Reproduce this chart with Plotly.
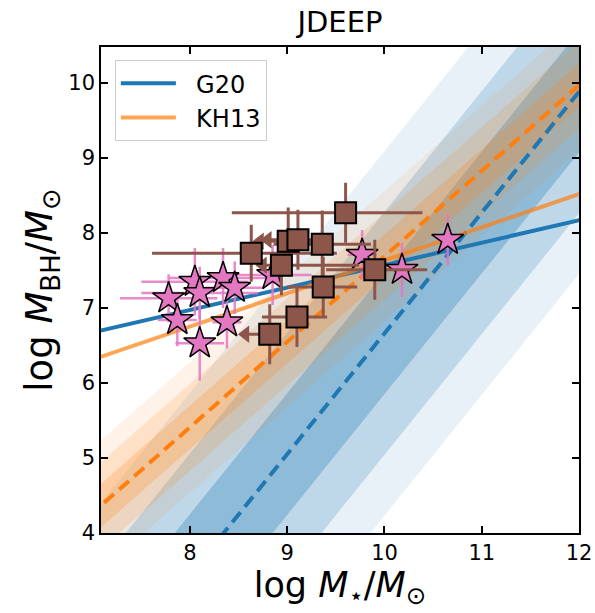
import numpy as np
import plotly.graph_objects as go

# ---------------- data ----------------
# G20 relation (dashed) and fitted line (solid)
g20_pivot, g20_norm, g20_slope, g20_sigma = 10.477, 7.43, 1.61, 0.81
g20_fit_norm, g20_fit_slope = 6.70, 0.299      # at x = 7.085
kh13_pivot, kh13_norm, kh13_slope, kh13_sigma = 11.0, 8.83, 1.14, 0.29
kh13_fit_norm, kh13_fit_slope = 6.35, 0.441    # at x = 7.085

star_x = [7.78, 7.87, 8.05, 8.10, 8.10, 8.34, 8.46, 8.38, 8.85, 9.77, 10.18, 10.65]
star_y = [7.13, 6.84, 7.35, 7.20, 6.53, 7.40, 7.27, 6.81, 7.44, 7.71, 7.51, 7.91]
star_xerr = [0.50, 0.20, 0.55, 0.60, 0.25, 0.55, 0.30, 0.15, 0.40, 0.15, 0.20, 0.10]
star_yerr = [0.32, 0.35, 0.45, 0.35, 0.50, 0.40, 0.35, 0.35, 0.40, 0.33, 0.36, 0.34]

sq_x = [9.60, 8.63, 9.01, 9.11, 9.36, 8.94, 9.37, 9.10, 8.82, 9.90]
sq_y = [8.27, 7.73, 7.89, 7.91, 7.85, 7.57, 7.28, 6.88, 6.65, 7.51]
sq_xerr_lo = [1.17, 1.02, 0.29, 0.31, 0.50, 0.19, 0.37, 0.36, 0.25, 0.50]
sq_xerr_hi = [0.79, 0.88, 0.30, 0.30, 0.50, 0.80, 0.35, 0.31, 0.10, 0.54]
sq_yerr = [0.40, 0.38, 0.45, 0.40, 0.45, 0.40, 0.40, 0.40, 0.40, 0.40]
sq_uplim = [0, 0, 1, 1, 0, 1, 0, 0, 1, 0]

xr = [7.085, 12.0]
yr = [4.0, 10.48]

C0 = (31, 119, 180)
C1 = (255, 127, 14)
PINK = "#e377c2"
BROWN = "#8c564b"

fig = go.Figure()

xs = np.array([6.5, 12.5])

def band(pivot, norm, slope, off, rgb, alpha):
    yc = norm + slope * (xs - pivot)
    px = list(xs) + list(xs[::-1])
    py = list(yc + off) + list((yc - off)[::-1])
    fig.add_trace(go.Scatter(x=px, y=py, mode="lines", line=dict(width=0),
                             fill="toself",
                             fillcolor=f"rgba({rgb[0]},{rgb[1]},{rgb[2]},{alpha})",
                             hoverinfo="skip", showlegend=False))

for k, a in [(3, 0.1), (2, 0.2), (1, 0.3)]:
    band(g20_pivot, g20_norm, g20_slope, k * g20_sigma, C0, a)
for k, a in [(3, 0.09), (2, 0.15), (1, 0.22)]:
    band(kh13_pivot, kh13_norm, kh13_slope, k * kh13_sigma, C1, a)

# dashed relations
fig.add_trace(go.Scatter(x=xs, y=g20_norm + g20_slope * (xs - g20_pivot), mode="lines",
                         line=dict(color="rgb(31,119,180)", width=4, dash="13px,7px"),
                         showlegend=False, hoverinfo="skip"))
fig.add_trace(go.Scatter(x=xs, y=kh13_norm + kh13_slope * (xs - kh13_pivot), mode="lines",
                         line=dict(color="rgb(255,127,14)", width=4, dash="13px,7px"),
                         showlegend=False, hoverinfo="skip"))
# solid fits
fig.add_trace(go.Scatter(x=xs, y=g20_fit_norm + g20_fit_slope * (xs - 7.085), mode="lines",
                         line=dict(color="rgb(31,119,180)", width=4),
                         name="&nbsp;&nbsp;G20", hoverinfo="skip"))
fig.add_trace(go.Scatter(x=xs, y=kh13_fit_norm + kh13_fit_slope * (xs - 7.085), mode="lines",
                         line=dict(color="rgba(255,127,14,0.7)", width=4),
                         name="&nbsp;&nbsp;KH13", hoverinfo="skip"))

# stars
fig.add_trace(go.Scatter(
    x=star_x, y=star_y, mode="markers",
    error_x=dict(type="data", array=star_xerr, color="rgba(227,119,194,0.85)", thickness=2.5, width=0),
    error_y=dict(type="data", array=star_yerr, color="rgba(227,119,194,0.85)", thickness=2.5, width=0),
    marker=dict(symbol="star", size=24, color=PINK, line=dict(color="black", width=1.5)),
    showlegend=False, hoverinfo="skip"))

# squares
fig.add_trace(go.Scatter(
    x=sq_x, y=sq_y, mode="markers",
    error_x=dict(type="data", symmetric=False, array=sq_xerr_hi, arrayminus=sq_xerr_lo,
                 color=BROWN, thickness=3, width=0),
    error_y=dict(type="data", array=sq_yerr, color=BROWN, thickness=3, width=0),
    marker=dict(symbol="square", size=0.1, color=BROWN),
    showlegend=False, hoverinfo="skip"))
ux = [x - lo for x, lo, u in zip(sq_x, sq_xerr_lo, sq_uplim) if u]
uy = [y for y, u in zip(sq_y, sq_uplim) if u]
fig.add_trace(go.Scatter(x=ux, y=uy, mode="markers",
                         marker=dict(symbol="triangle-left", size=15, color=BROWN),
                         showlegend=False, hoverinfo="skip"))
fig.add_trace(go.Scatter(
    x=sq_x, y=sq_y, mode="markers",
    marker=dict(symbol="square", size=21, color=BROWN, line=dict(color="black", width=2)),
    showlegend=False, hoverinfo="skip"))

axis_common = dict(showgrid=False, zeroline=False, ticks="inside", ticklen=7, tickwidth=1.5,
                   tickcolor="black", showline=True, linecolor="black", linewidth=1.5,
                   mirror="ticks", tickfont=dict(size=21, color="black"), automargin=False)
fig.update_layout(
    width=595, height=613,
    margin=dict(l=101, r=16, t=47, b=80, autoexpand=False),
    paper_bgcolor="white", plot_bgcolor="white",
    font=dict(family="DejaVu Sans", color="black"),
    title=dict(text="JDEEP", x=(101 + 579) / 2 / 595, xanchor="center",
               y=1 - 22 / 613, yanchor="middle", font=dict(size=29)),
    xaxis=dict(range=xr, tickvals=[8, 9, 10, 11, 12],
               title=dict(text="log <i>M</i><sub>⋆</sub>/<i>M</i><sub>⊙</sub>",
                          font=dict(size=35), standoff=4),
               **axis_common),
    yaxis=dict(range=yr, tickvals=[4, 5, 6, 7, 8, 9, 10],
               title=dict(text="log <i>M</i><sub>BH</sub>/<i>M</i><sub>⊙</sub>",
                          font=dict(size=37), standoff=4),
               **axis_common),
    legend=dict(x=0.029, y=0.973, xanchor="left", yanchor="top",
                bgcolor="rgba(255,255,255,0.8)", bordercolor="#cccccc", borderwidth=1,
                font=dict(size=24), itemwidth=55, tracegroupgap=4),
)

fig.write_html("out.html")
